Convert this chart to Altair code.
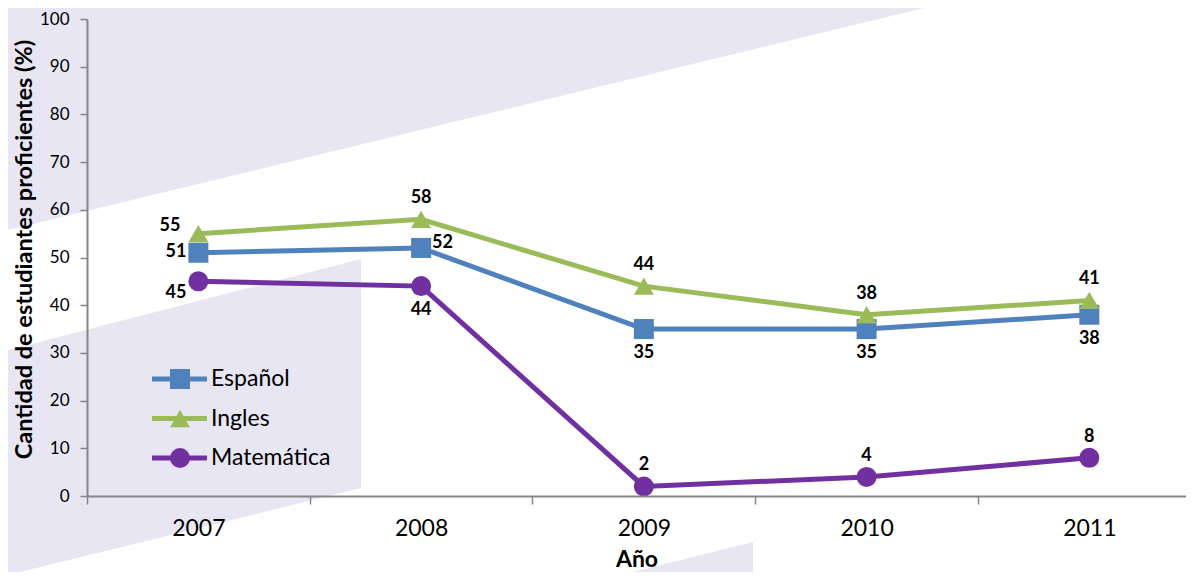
import altair as alt
import pandas as pd

# ---------------- data ----------------
years = [2007, 2008, 2009, 2010, 2011]
series_names = ["Español", "Ingles", "Matemática"]
espanol = [51, 52, 35, 35, 38]
ingles = [55, 58, 44, 38, 41]
matematica = [45, 44, 2, 4, 8]
y_ticks = list(range(0, 101, 10))

# ---------------- style ----------------
COLORS = ["#4F81BD", "#9BBB59", "#7030A0"]
SHAPES = ["square", "triangle-up", "circle"]
FONT = "Lato"
AXIS_COLOR = "#868686"
DECOR = "#E8E6F3"

# label placement per series (style only)
PLACEMENT = {
    "Español": ["left", "right", "below", "below", "below"],
    "Ingles": ["aboveleft", "above", "above", "above", "above"],
    "Matemática": ["belowleft", "below", "above", "above", "above"],
}
PLACE_STYLE = {
    "left": ("right", -12, -1),
    "right": ("left", 11, -5),
    "below": ("center", 0, 24),
    "above": ("center", 0, -21),
    "aboveleft": ("right", -18, -8),
    "belowleft": ("right", -12, 12),
}

values_by_series = {"Español": espanol, "Ingles": ingles, "Matemática": matematica}
rows = []
for s in series_names:
    for i, yr in enumerate(years):
        rows.append({"year": yr, "series": s, "value": values_by_series[s][i],
                     "place": PLACEMENT[s][i]})
df = pd.DataFrame(rows)

W, H = 1099, 477
PAD_TOP = 11

tick_vals = []
for yr in years:
    tick_vals += [yr - 0.5, yr]

x_enc = alt.X(
    "year:Q",
    scale=alt.Scale(domain=[2006.5, 2011.434], nice=False, zero=False),
    axis=alt.Axis(
        values=tick_vals,
        labelExpr="datum.value % 1 === 0 ? '' + datum.value : ''",
        tickOpacity={"condition": {"test": "datum.value % 1 !== 0", "value": 1}, "value": 0},
        tickSize=8, tickWidth=1.5, tickColor=AXIS_COLOR,
        domainColor=AXIS_COLOR, domainWidth=2,
        labelFont=FONT, labelFontSize=23, labelColor="#000000", labelPadding=13,
        labelFlush=False, labelOverlap=False,
        title="Año", titleFont=FONT, titleFontSize=23, titleFontWeight="bold",
        titleColor="#000000", titlePadding=8, grid=False, zindex=1,
    ),
)
y_enc = alt.Y(
    "value:Q",
    scale=alt.Scale(domain=[0, 100], nice=False),
    axis=alt.Axis(
        values=y_ticks, tickSize=7, tickWidth=1.5, tickColor=AXIS_COLOR,
        domainColor=AXIS_COLOR, domainWidth=2,
        labelFont=FONT, labelFontSize=17, labelColor="#000000", labelPadding=11,
        title="Cantidad de estudiantes proficientes (%)", titleFont=FONT,
        titleFontSize=23.5, titleFontWeight="bold", titleColor="#000000",
        titlePadding=3, titleY=230, grid=False, zindex=1,
    ),
)

base = alt.Chart(df)

# decorative background shapes (plot-pixel space)
decor_df = pd.DataFrame([
    {"g": "a", "px": -87, "py": 213, "py2": -19},
    {"g": "a", "px": 870, "py": -19, "py2": -19},
    {"g": "b", "px": -87, "py": 333, "py2": 558},
    {"g": "b", "px": 274, "py": 240, "py2": 469},
    {"g": "c", "px": 510, "py": 562, "py2": 562},
    {"g": "c", "px": 666, "py": 523, "py2": 562},
])
decor = alt.Chart(decor_df).mark_area(color=DECOR, opacity=1).encode(
    x=alt.X("px:Q", scale=None),
    y=alt.Y("py:Q", scale=None),
    y2="py2:Q",
    detail="g:N",
)

stroke_scale = alt.Scale(domain=series_names, range=COLORS)

lines = base.mark_line(strokeWidth=5).encode(
    x=x_enc, y=y_enc,
    stroke=alt.Stroke("series:N", scale=stroke_scale, legend=None),
)

point_layers = []
for s, c, sh in zip(series_names, COLORS, SHAPES):
    point_layers.append(
        base.transform_filter(alt.datum.series == s)
        .mark_point(shape=sh, filled=True, size=400, color=c, opacity=1)
        .encode(x=x_enc, y=y_enc)
    )

text_layers = []
for place, (align, dx, dy) in PLACE_STYLE.items():
    text_layers.append(
        base.transform_filter(alt.datum.place == place)
        .mark_text(font=FONT, fontSize=18, fontWeight="bold", color="#000000",
                   align=align, baseline="middle", dx=dx, dy=dy)
        .encode(x=x_enc, y=y_enc, text="value:Q")
    )

# ---------------- legend (inside the plot, plot-pixel space) ----------------
LEG_LINE_X0, LEG_LINE_X1, LEG_MARK_X, LEG_TEXT_X = 65, 120, 93, 124
LEG_ROW0, LEG_ROW_STEP = 360, 39.5
leg_df = pd.DataFrame({
    "series": series_names,
    "ly": [LEG_ROW0 + i * LEG_ROW_STEP for i in range(len(series_names))],
    "lx0": LEG_LINE_X0, "lx1": LEG_LINE_X1, "mx": LEG_MARK_X, "tx": LEG_TEXT_X,
})
leg_base = alt.Chart(leg_df)
leg_lines = leg_base.mark_rule(strokeWidth=5).encode(
    x=alt.X("lx0:Q", scale=None), x2="lx1:Q",
    y=alt.Y("ly:Q", scale=None),
    stroke=alt.Stroke("series:N", scale=stroke_scale, legend=None),
)
leg_marks = []
for s, c, sh in zip(series_names, COLORS, SHAPES):
    leg_marks.append(
        leg_base.transform_filter(alt.datum.series == s)
        .mark_point(shape=sh, filled=True, size=400, color=c, opacity=1)
        .encode(x=alt.X("mx:Q", scale=None), y=alt.Y("ly:Q", scale=None))
    )
leg_text = leg_base.mark_text(font=FONT, fontSize=23, color="#000000",
                              align="left", baseline="middle").encode(
    x=alt.X("tx:Q", scale=None), y=alt.Y("ly:Q", scale=None), text="series:N",
)

chart = alt.layer(
    decor, lines, *point_layers, *text_layers, leg_lines, *leg_marks, leg_text
).properties(
    width=W, height=H,
    padding={"left": 79, "top": PAD_TOP, "right": 0, "bottom": 76},
    autosize="none",
    background="#FFFFFF",
).configure_view(stroke=None)

chart.save("out.html", embed_options={"renderer": "svg", "actions": False})
